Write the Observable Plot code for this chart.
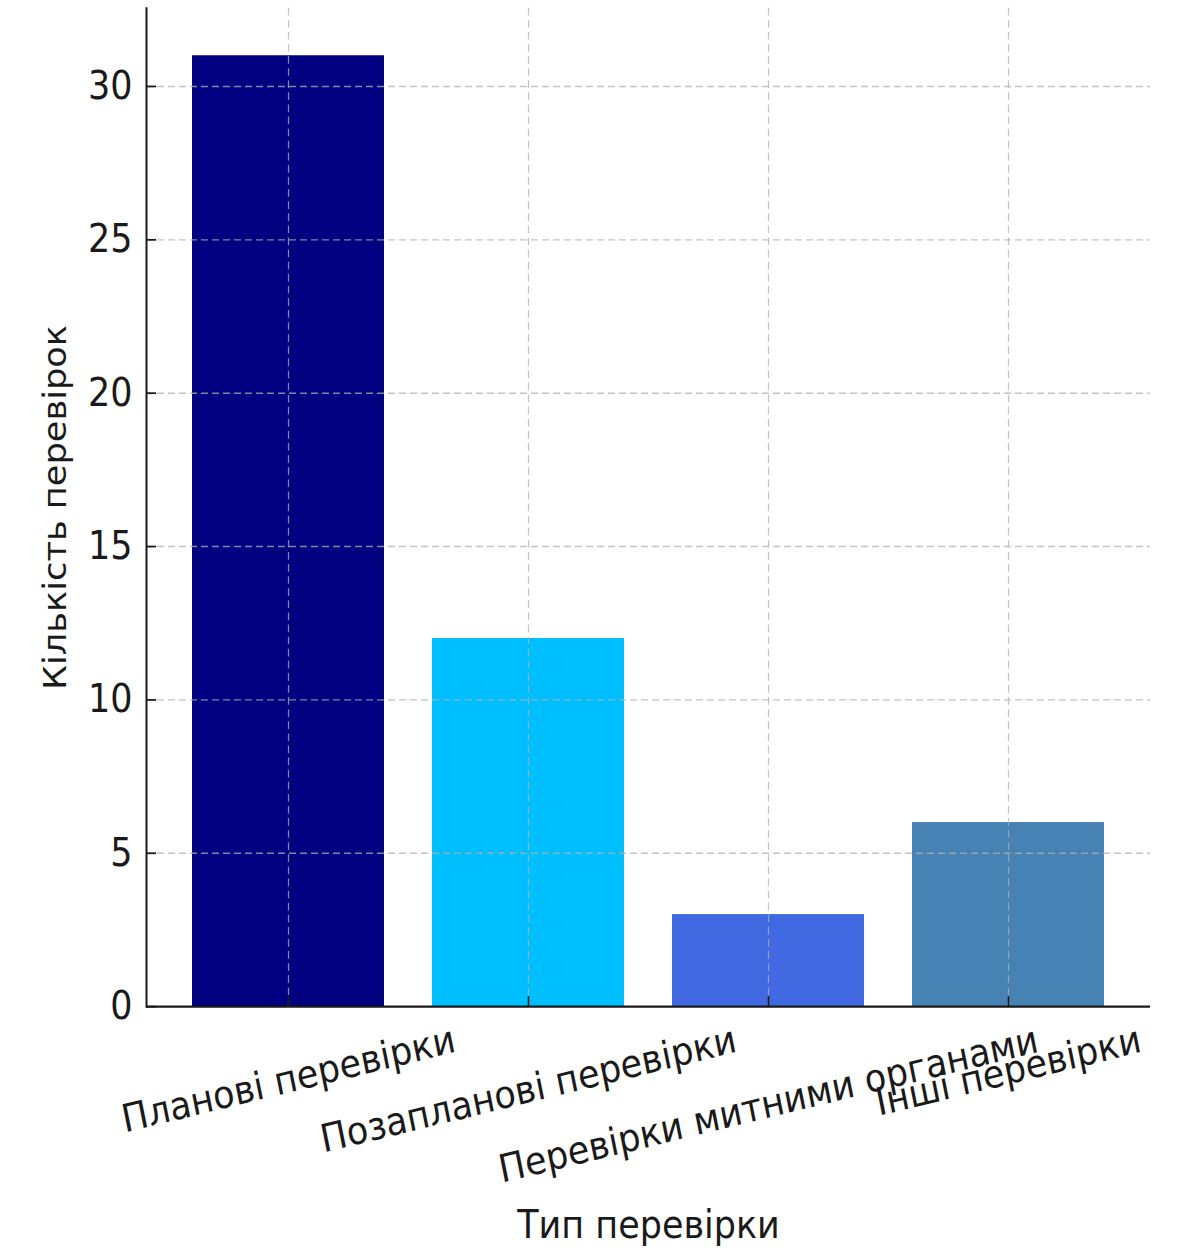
<!DOCTYPE html>
<html>
<head>
<meta charset="utf-8">
<script src="https://cdn.jsdelivr.net/npm/d3@7"></script>
<script src="https://cdn.jsdelivr.net/npm/@observablehq/plot@0.6"></script>
<style>
  html, body { margin: 0; padding: 0; background: #fff; }
  #chart svg { display: block; }
</style>
</head>
<body>
<div id="chart"></div>
<script>
const categories = ["Планові перевірки", "Позапланові перевірки", "Перевірки митними органами", "Інші перевірки"];
const counts = [31, 12, 3, 6];
const barColors = ["#000080", "#00bfff", "#4169e1", "#4682b4"];
const yTicks = [0, 5, 10, 15, 20, 25, 30];
const yLabel = "Кількість перевірок";
const xLabel = "Тип перевірки";

const data = categories.map((c, i) => ({cat: c, value: counts[i], color: barColors[i]}));

const FONT = "'DejaVu Sans', sans-serif";
const tickFont = 35;
const labelFont = 35;
const yLabelFont = 32;
const angle = 12.5;

// The reference figure is slightly stretched vertically; draw at a base height and stretch the SVG.
const W = 1180, H = 1248, stretch = 1.1;
const H0 = Math.round(H / stretch);

// measure label lengths to mimic centered rotated labels hanging from the axis
const ctx = document.createElement("canvas").getContext("2d");
ctx.font = `${tickFont}px 'DejaVu Sans'`;
const rad = angle * Math.PI / 180;
const lineH = tickFont * 1.1;
function labelDy(t) {
  const L = ctx.measureText(t).width;
  return 11 + (L * Math.sin(rad) + lineH * Math.cos(rad)) / 2;
}

const gridStyle = {stroke: "#b0b0b0", strokeOpacity: 0.75, strokeWidth: 1.25, strokeDasharray: "7,4"};

const chart = Plot.plot({
  width: W,
  height: H0,
  marginTop: 7,
  marginBottom: 220,
  marginLeft: 146,
  marginRight: 30,
  style: {fontFamily: FONT, background: "#fff", color: "#1a1a1a"},
  x: {type: "band", domain: categories, paddingInner: 0.2, paddingOuter: 0.19, label: null},
  y: {domain: [0, 32.55], label: null},
  marks: [
    Plot.barY(data, {x: "cat", y: "value", fill: "color"}),
    Plot.ruleX(categories, gridStyle),
    Plot.ruleY(yTicks.filter(d => d > 0), gridStyle),
    Plot.axisY({ticks: yTicks, tickSize: -10, tickPadding: 24, fontSize: tickFont, stroke: "#1a1a1a", strokeWidth: 1.6, label: null}),
    Plot.axisX({tickSize: -9, tickFormat: () => "", stroke: "#1a1a1a", strokeWidth: 1.6, label: null}),
    ...categories.map(c => Plot.text([c], {
      x: d => d, frameAnchor: "bottom", dy: labelDy(c), rotate: -angle,
      textAnchor: "middle", lineAnchor: "middle", fontSize: tickFont, fill: "#1a1a1a"
    })),
    Plot.text([yLabel], {frameAnchor: "left", dx: -91, rotate: -90, textAnchor: "middle", lineAnchor: "middle", fontSize: yLabelFont, fill: "#1a1a1a"}),
    Plot.text([xLabel], {frameAnchor: "bottom", dy: 199, textAnchor: "middle", lineAnchor: "middle", fontSize: labelFont, fill: "#1a1a1a"}),
    Plot.ruleY([0], {stroke: "#1a1a1a", strokeWidth: 2}),
    Plot.frame({anchor: "left", stroke: "#1a1a1a", strokeWidth: 2})
  ]
});

chart.setAttribute("viewBox", `0 0 ${W} ${H0}`);
chart.setAttribute("width", W);
chart.setAttribute("height", H);
chart.setAttribute("preserveAspectRatio", "none");
chart.style.width = W + "px";
chart.style.height = H + "px";
chart.style.maxWidth = "none";

document.getElementById("chart").appendChild(chart);
</script>
</body>
</html>
